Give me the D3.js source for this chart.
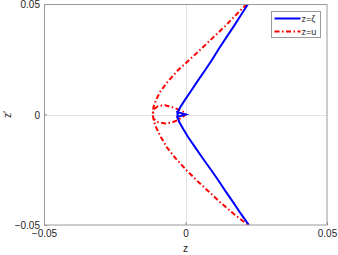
<!DOCTYPE html>
<html>
<head>
<meta charset="utf-8">
<script src="https://cdn.jsdelivr.net/npm/d3@7"></script>
<style>
  body { margin: 0; background: #fff; }
  svg text { font-family: "Liberation Sans", Arial, sans-serif; fill: #262626; }
</style>
</head>
<body>
<svg id="graph" width="338" height="255"></svg>
<script>
var margin = { top: 4, right: 11, bottom: 30, left: 44 }
var width = 338 - margin.left - margin.right
var height = 255 - margin.top - margin.bottom

// tick values (both axes)
var xTicks = [-0.05, 0, 0.05]
var yTicks = [-0.05, 0, 0.05]

// z = zeta curve, as [z, z'] pairs
var zetaZ = [0.0221, 0.0196, 0.0171, 0.0145, 0.0119, 0.0095, 0.0069, 0.0042, 0.0017, -0.0002, -0.0018, -0.0026, -0.0029,
    0.0001, -0.0029,
    -0.0027, -0.0022, -0.0008, 0.0009, 0.0035, 0.0062, 0.0090, 0.0117, 0.0143, 0.0170, 0.0196, 0.0224]
var zetaZp = [0.05, 0.045, 0.04, 0.035, 0.03, 0.025, 0.02, 0.015, 0.0102, 0.0066, 0.0034, 0.0016, -0.0011,
    0.0, 0.0011,
    -0.0016, -0.0034, -0.0066, -0.0102, -0.015, -0.02, -0.025, -0.03, -0.035, -0.04, -0.045, -0.05]

// z = u curve
var uZ = [0.0217, 0.0178, 0.0140, 0.0099, 0.0058, 0.0016, -0.0027, -0.0062, -0.0090, -0.0104, -0.0113, -0.0116,
    -0.0113, -0.0097, -0.0072, -0.0048, -0.0027, 0.0002, -0.0009, -0.0037, -0.0072, -0.0097, -0.0111, -0.0116,
    -0.0111, -0.0101, -0.0087, -0.0065, -0.0034, 0.0002, 0.0041, 0.0083, 0.0125, 0.0171, 0.0221]
var uZp = [0.05, 0.045, 0.04, 0.035, 0.03, 0.025, 0.02, 0.015, 0.0102, 0.0066, 0.0034, 0.0,
    -0.0020, -0.0034, -0.0041, -0.0036, -0.0025, 0.0, 0.0013, 0.0029, 0.0042, 0.0038, 0.0025, 0.0,
    -0.0034, -0.0066, -0.0102, -0.015, -0.02, -0.025, -0.03, -0.035, -0.04, -0.045, -0.05]

var svg = d3.select("#graph").append("g")
    .attr("transform", "translate(" + margin.left + "," + margin.top + ")")

var xScale = d3.scaleLinear().domain([-0.05, 0.05]).range([0, width])
var yScale = d3.scaleLinear().domain([-0.05, 0.05]).range([height, 0])

// zero lines
svg.append("line")
    .attr("x1", Math.round(xScale(0)) + 0.5).attr("x2", Math.round(xScale(0)) + 0.5)
    .attr("y1", 0).attr("y2", height)
    .attr("stroke", "#e3e3e3").attr("stroke-width", 1)
svg.append("line")
    .attr("x1", 0).attr("x2", width)
    .attr("y1", Math.round(yScale(0)) + 0.5).attr("y2", Math.round(yScale(0)) + 0.5)
    .attr("stroke", "#e3e3e3").attr("stroke-width", 1)

svg.append("clipPath").attr("id", "clip")
    .append("rect").attr("width", width).attr("height", height)

var line = d3.line()
    .x(d => xScale(d[0]))
    .y(d => yScale(d[1]))

var plot = svg.append("g").attr("clip-path", "url(#clip)")

plot.append("path")
    .datum(d3.zip(uZ, uZp))
    .attr("d", line)
    .attr("fill", "none")
    .attr("stroke", "#ff0000")
    .attr("stroke-width", 2)
    .attr("stroke-dasharray", "5,2.5,1.5,2.5")

plot.append("path")
    .datum(d3.zip(zetaZ, zetaZp))
    .attr("d", line)
    .attr("fill", "none")
    .attr("stroke", "#0000ff")
    .attr("stroke-width", 2)

// axes
var xAxis = svg.append("g")
    .attr("transform", "translate(0," + height + ")")
    .call(d3.axisBottom(xScale).tickValues(xTicks).tickSizeInner(-3).tickSizeOuter(0).tickPadding(5)
        .tickFormat(d => d == 0 ? "0" : d3.format(".2f")(d)))
var yAxis = svg.append("g")
    .call(d3.axisLeft(yScale).tickValues(yTicks).tickSizeInner(-3).tickSizeOuter(0).tickPadding(4)
        .tickFormat(d => d == 0 ? "0" : d3.format(".2f")(d)))

svg.selectAll(".tick text").attr("font-size", 10).style("fill", "#262626")
svg.selectAll(".domain").remove()
svg.selectAll(".tick line").attr("stroke", "#8c8c8c")
yAxis.selectAll(".tick text").attr("dy", "0.35em")

// box
svg.append("rect")
    .attr("x", 0.5).attr("y", 0.5)
    .attr("width", width - 0.5).attr("height", height - 0.5)
    .attr("fill", "none").attr("stroke", "#9a9a9a").attr("stroke-width", 1)

// axis titles
svg.append("text")
    .attr("x", xScale(0)).attr("y", height + 27)
    .attr("text-anchor", "middle").attr("font-size", 10)
    .text("z")
svg.append("text")
    .attr("transform", "translate(" + (-33) + "," + yScale(0) + ") rotate(-90)")
    .attr("text-anchor", "middle").attr("font-size", 10)
    .text("z\u2032")

// legend
var legend = svg.append("g").attr("transform", "translate(" + (271.5 - margin.left) + "," + (11.5 - margin.top) + ")")
legend.append("rect")
    .attr("width", 49).attr("height", 26)
    .attr("fill", "#fff").attr("stroke", "#9a9a9a").attr("stroke-width", 1)

var legendNames = ["z=\u03b6", "z=u"]
var legendColors = ["#0000ff", "#ff0000"]
var legendDash = [null, "5,2.5,1.5,2.5"]
legendNames.forEach((name, i) => {
    var yy = 7 + i * 13
    legend.append("line")
        .attr("x1", 3).attr("x2", 29)
        .attr("y1", yy).attr("y2", yy)
        .attr("stroke", legendColors[i]).attr("stroke-width", 2)
        .attr("stroke-dasharray", legendDash[i])
    legend.append("text")
        .attr("x", 30).attr("y", yy).attr("dy", "0.35em")
        .attr("font-size", 9)
        .text(name)
})
</script>
</body>
</html>
